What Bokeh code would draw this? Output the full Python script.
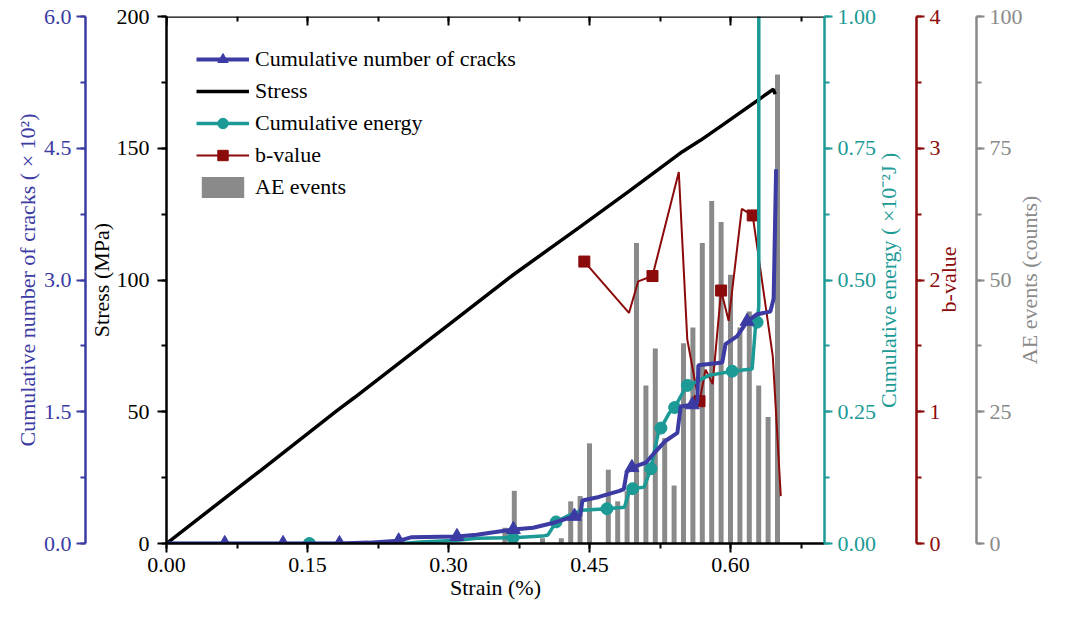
import math
import json
from bokeh.plotting import figure
from bokeh.models import (Range1d, LinearAxis, SingleIntervalTicker, FixedTicker,
                          PrintfTickFormatter, CustomJSTickFormatter, Legend, LegendItem)
from bokeh.embed import file_html
from bokeh.resources import INLINE

# ---------------- data ----------------
stress_strain = [0.0, 0.10, 0.181, 0.20, 0.30, 0.3686, 0.4392, 0.4922, 0.5488, 0.568, 0.591, 0.6456, 0.6475]
stress_mpa = [0.0, 27.7, 50.3, 55.4, 83.0, 101.9, 120.0, 133.7, 148.7, 153.0, 158.7, 172.4, 170.5]

crack_strain = [0.0, 0.184, 0.215, 0.247, 0.26, 0.309, 0.33, 0.35, 0.369, 0.39, 0.41, 0.425,
                0.434, 0.440, 0.4425, 0.46, 0.482, 0.4865, 0.4895, 0.4951, 0.5099, 0.5205,
                0.5311, 0.5435, 0.547, 0.5594, 0.5647, 0.5658, 0.5912, 0.5947, 0.6071,
                0.6177, 0.6283, 0.6424, 0.6459, 0.6485]
crack_val = [0.0, 0.0, 0.01, 0.03, 0.07, 0.08, 0.10, 0.13, 0.16, 0.18, 0.23, 0.28,
             0.31, 0.31, 0.49, 0.53, 0.60, 0.62, 0.81, 0.865, 0.92, 1.05,
             1.17, 1.26, 1.56, 1.58, 1.60, 2.03, 2.06, 2.27, 2.36,
             2.53, 2.61, 2.64, 2.79, 4.26]
crack_mk_strain = [0.062, 0.124, 0.184, 0.247, 0.309, 0.369, 0.434, 0.4951, 0.5594, 0.6177]
crack_mk_val = [0.0, 0.0, 0.0, 0.03, 0.08, 0.16, 0.31, 0.865, 1.58, 2.53]

energy_strain = [0.0, 0.152, 0.25, 0.27, 0.31, 0.33, 0.3686, 0.40, 0.4057, 0.4145, 0.4286,
                 0.4418, 0.4686, 0.4872, 0.4925, 0.4959, 0.5081, 0.5153, 0.5239, 0.526,
                 0.5346, 0.5406, 0.5488, 0.5541, 0.5594, 0.5771, 0.6018, 0.6230, 0.6265,
                 0.6283, 0.6301, 0.6301]
energy_val = [0.0, 0.0, 0.0, 0.003, 0.006, 0.010, 0.011, 0.014, 0.016, 0.041, 0.054,
              0.063, 0.066, 0.069, 0.100, 0.104, 0.107, 0.142, 0.216, 0.219,
              0.247, 0.258, 0.285, 0.300, 0.303, 0.319, 0.327, 0.331, 0.41,
              0.42, 0.45, 1.20]
energy_mk_strain = [0.152, 0.3686, 0.4145, 0.4686, 0.4959, 0.5153, 0.526, 0.5406, 0.5541, 0.6018, 0.6283]
energy_mk_val = [0.0, 0.011, 0.041, 0.066, 0.104, 0.142, 0.219, 0.258, 0.300, 0.327, 0.42]

b_strain = [0.4445, 0.492, 0.5018, 0.517, 0.545, 0.554, 0.563, 0.567, 0.5735, 0.581,
            0.590, 0.598, 0.612, 0.6236, 0.645, 0.6535]
b_val = [2.14, 1.75, 1.99, 2.03, 2.82, 1.55, 1.20, 1.08, 1.32, 1.21,
         1.92, 1.69, 2.54, 2.49, 1.42, 0.36]
b_mk_strain = [0.4445, 0.517, 0.567, 0.590, 0.6236]
b_mk_val = [2.14, 2.03, 1.08, 1.92, 2.49]

ae_strain = [0.36, 0.37, 0.40, 0.42, 0.43, 0.44, 0.45, 0.47, 0.48, 0.49, 0.50, 0.51, 0.52,
             0.53, 0.54, 0.55, 0.56, 0.57, 0.58, 0.59, 0.60, 0.61, 0.62, 0.63, 0.64, 0.65]
ae_count = [3, 10, 1, 1, 8, 9, 19, 14, 8, 10, 57, 30, 37,
            20, 11, 38, 41, 57, 65, 61, 51, 41, 44, 30, 24, 89]

# ---------------- layout / style ----------------
FONT = "Liberation Serif"
FS = "22px"
BLUE = "#3b3ba3"
TEAL = "#1b9a96"
RED = "#8b0a0a"
GRAY = "#8a8a8a"
BLACK = "black"

W, H = 1057, 602
FL, FT, FB = 166, 16, 545          # frame edges in pixels (right edge: as wide as the axes allow)
PIX = FB - FT

p = figure(width=W, height=H, output_backend="svg", toolbar_location=None,
           x_range=Range1d(0, 0.70), y_range=Range1d(0, 200),
           min_border_left=FL, min_border_right=150,
           min_border_top=FT, min_border_bottom=H - FB)
p.outline_line_color = None
p.xgrid.visible = False
p.ygrid.visible = False
p.extra_y_ranges = {"crack": Range1d(0, 6), "energy": Range1d(0, 1),
                    "b": Range1d(0, 4), "ae": Range1d(0, 100), "pix": Range1d(0, PIX)}


def style(ax, color, interval, fmt, tick, mls, label=None, als=0):
    ax.ticker = SingleIntervalTicker(interval=interval, num_minor_ticks=2)
    if fmt:
        ax.formatter = PrintfTickFormatter(format=fmt)
    ax.axis_line_color = color
    ax.axis_line_width = 2.5
    ax.major_tick_line_color = color
    ax.major_tick_line_width = 2
    ax.minor_tick_line_color = color
    ax.minor_tick_line_width = 2
    ax.major_tick_out = tick
    ax.major_tick_in = 0
    ax.minor_tick_out = 5
    ax.minor_tick_in = 0
    ax.major_label_text_font = FONT
    ax.major_label_text_font_size = FS
    ax.major_label_text_color = color
    ax.major_label_standoff = mls
    ax.axis_label = label
    ax.axis_label_text_font = FONT
    ax.axis_label_text_font_size = FS
    ax.axis_label_text_font_style = "normal"
    ax.axis_label_text_color = color
    ax.axis_label_standoff = als


def title_axis(text, length_px, standoff, color):
    # rotated title (reads bottom-to-top) drawn as the single tick label of a bare axis
    v = int(round(PIX / 2 - length_px / 2))
    return LinearAxis(y_range_name="pix", ticker=FixedTicker(ticks=[v], minor_ticks=[]),
                      formatter=CustomJSTickFormatter(code="return %s;" % json.dumps(text)),
                      major_label_orientation=math.pi / 2,
                      axis_line_color=None, major_tick_line_color=None, minor_tick_line_color=None,
                      major_tick_out=0, major_tick_in=0, minor_tick_out=0, minor_tick_in=0,
                      major_label_standoff=standoff,
                      major_label_text_font=FONT, major_label_text_font_size=FS,
                      major_label_text_line_height=1.0,
                      major_label_text_color=color)


# x axis and stress axis
style(p.xaxis[0], BLACK, 0.15, "%.2f", 9, 5, "Strain (%)", 0)
style(p.yaxis[0], BLACK, 50, None, 9, 8, "Stress (MPa)", 0)

# top mirrored ticks
top = LinearAxis(ticker=SingleIntervalTicker(interval=0.15, num_minor_ticks=2),
                 fixed_location=200, axis_line_color=BLACK, axis_line_width=2.5,
                 major_tick_in=9, major_tick_out=0, minor_tick_in=5, minor_tick_out=0,
                 major_tick_line_width=2, minor_tick_line_width=2,
                 major_label_text_color=None)
p.add_layout(top, "above")

# left crack axis
ax_cr = LinearAxis(y_range_name="crack")
style(ax_cr, BLUE, 1.5, "%.1f", 9, 5, "Cumulative number of cracks ( \u00d7 10\u00b2)", 1)
p.add_layout(ax_cr, "left")

# right axes with their titles
ax_en = LinearAxis(y_range_name="energy")
style(ax_en, TEAL, 0.25, "%.2f", 8, 5)
ax_b = LinearAxis(y_range_name="b")
style(ax_b, RED, 1, None, 8, 5)
ax_ae = LinearAxis(y_range_name="ae")
style(ax_ae, GRAY, 25, None, 8, 5)

p.add_layout(ax_en, "right")
p.add_layout(title_axis("Cumulative energy ( \u00d710\u207b\u00b2J )", 258, 9, TEAL), "right")
p.add_layout(ax_b, "right")
p.add_layout(title_axis("b-value", 66, 5, RED), "right")
p.add_layout(ax_ae, "right")
p.add_layout(title_axis("AE events (counts)", 169, 4, GRAY), "right")

# ---------------- glyphs ----------------
r_ae = p.vbar(x=ae_strain, top=ae_count, width=0.0053, y_range_name="ae",
              fill_color=GRAY, line_color=None)
r_stress = p.line(stress_strain, stress_mpa, line_color=BLACK, line_width=3.5)
r_b_line = p.line(b_strain, b_val, y_range_name="b", line_color=RED, line_width=2)
r_b_mk = p.scatter(b_mk_strain, b_mk_val, y_range_name="b", marker="square", size=11,
                   fill_color=RED, line_color=RED)
r_en_line = p.line(energy_strain, energy_val, y_range_name="energy", line_color=TEAL, line_width=3.5)
r_en_mk = p.scatter(energy_mk_strain, energy_mk_val, y_range_name="energy", marker="circle",
                    size=12, fill_color=TEAL, line_color=TEAL)
r_cr_line = p.line(crack_strain, crack_val, y_range_name="crack", line_color=BLUE, line_width=4)
r_cr_mk = p.scatter(crack_mk_strain, crack_mk_val, y_range_name="crack", marker="triangle",
                    size=14, fill_color=BLUE, line_color=BLUE)

legend = Legend(items=[
    LegendItem(label="Cumulative number of cracks", renderers=[r_cr_line, r_cr_mk]),
    LegendItem(label="Stress", renderers=[r_stress]),
    LegendItem(label="Cumulative energy", renderers=[r_en_line, r_en_mk]),
    LegendItem(label="b-value", renderers=[r_b_line, r_b_mk]),
    LegendItem(label="AE events", renderers=[r_ae]),
], location="top_left")
legend.glyph_width = 53
legend.glyph_height = 26
legend.label_height = 26
legend.label_standoff = 6
legend.spacing = 6
legend.padding = 0
legend.margin = 30
legend.border_line_color = None
legend.background_fill_alpha = 0
legend.label_text_font = FONT
legend.label_text_font_size = FS
legend.label_text_color = BLACK
p.add_layout(legend)

open("out.html", "w").write(file_html(p, INLINE))
